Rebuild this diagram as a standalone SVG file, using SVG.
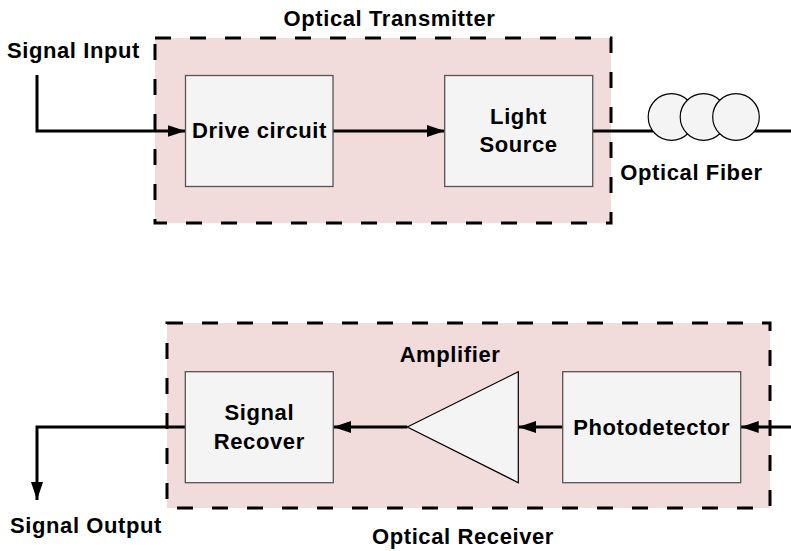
<svg xmlns="http://www.w3.org/2000/svg" width="791" height="551" viewBox="0 0 791 551">
<style>
  .grp { fill: #f2dcdb; stroke: #000; stroke-width: 3; stroke-dasharray: 16 19; }
  .box { fill: #f4f4f4; stroke: #555; stroke-width: 1.3; }
  .shape { fill: #f4f4f4; stroke: #000; stroke-width: 1.2; }
  .wire { fill: none; stroke: #000; stroke-width: 3; }
  .arr { marker-end: url(#ah); }
  text { font-family: "Liberation Sans", Arial, sans-serif; font-weight: bold; font-size: 22px; letter-spacing: 0.6px; fill: #000; text-anchor: middle; }
</style>
<defs>
  <marker id="ah" markerUnits="userSpaceOnUse" markerWidth="18" markerHeight="12" refX="18" refY="6" orient="auto">
    <path d="M0,0 L18,6 L0,12 z" fill="#000"/>
  </marker>
</defs>

<g id="transmitter">
  <rect class="grp" x="155" y="38" width="456" height="185"/>
  <text x="389.5" y="26">Optical Transmitter</text>
</g>
<g id="receiver">
  <rect class="grp" x="167" y="323" width="603" height="185"/>
  <text x="463" y="544">Optical Receiver</text>
</g>

<g id="connectors">
  <polyline class="wire arr" points="37,75 37,131 185.5,131"/>
  <line class="wire arr" x1="333" y1="131" x2="444.7" y2="131"/>
  <line class="wire" x1="592.7" y1="131" x2="791" y2="131"/>
  <line class="wire arr" x1="791" y1="427" x2="740.7" y2="427"/>
  <line class="wire arr" x1="562.7" y1="427" x2="518.3" y2="427"/>
  <line class="wire arr" x1="407.3" y1="427" x2="333.3" y2="427"/>
  <polyline class="wire arr" points="187,427 37,427 37,500"/>
</g>

<g id="signal-input"><text x="73.5" y="58">Signal Input</text></g>
<g id="drive-circuit">
  <rect class="box" x="185.5" y="75.5" width="147.5" height="111"/>
  <text x="259.5" y="138">Drive circuit</text>
</g>
<g id="light-source">
  <rect class="box" x="444.7" y="75.5" width="148" height="111"/>
  <text x="518.5" y="124">Light</text>
  <text x="518.5" y="152">Source</text>
</g>
<g id="optical-fiber">
  <circle class="shape" cx="671.5" cy="117" r="23.3"/>
  <circle class="shape" cx="703.5" cy="117" r="23.3"/>
  <circle class="shape" cx="736" cy="117" r="23.3"/>
  <text x="691.5" y="180">Optical Fiber</text>
</g>
<g id="photodetector">
  <rect class="box" x="562.7" y="371.7" width="178" height="111"/>
  <text x="651.7" y="435">Photodetector</text>
</g>
<g id="amplifier">
  <polygon class="shape" points="407.3,427 518.3,371.7 518.3,482.7"/>
  <text x="450" y="362">Amplifier</text>
</g>
<g id="signal-recover">
  <rect class="box" x="185.3" y="371.7" width="148" height="111"/>
  <text x="259.3" y="419.5">Signal</text>
  <text x="259.3" y="449">Recover</text>
</g>
<g id="signal-output"><text x="86" y="533">Signal Output</text></g>
</svg>
